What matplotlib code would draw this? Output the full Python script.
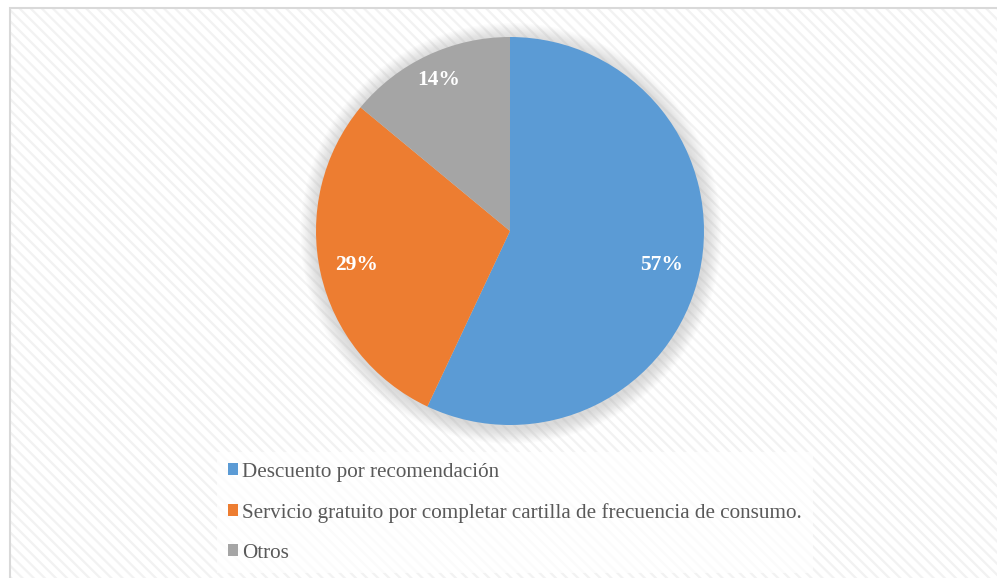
import numpy as np
import matplotlib.pyplot as plt
from matplotlib.patches import Rectangle, Circle, Patch

# datos del gráfico
categorias = ["Descuento por recomendación",
              "Servicio gratuito por completar cartilla de frecuencia de consumo.",
              "Otros"]
porcentajes = [57, 29, 14]
colores = ["#5b9bd5", "#ed7d31", "#a5a5a5"]
radio_etiquetas = [0.80, 0.81, 0.86]

plt.rcParams['font.family'] = ['Liberation Serif', 'DejaVu Serif']
plt.rcParams['hatch.linewidth'] = 1.6

W, H = 997, 578
fig = plt.figure(figsize=(W / 100, H / 100), dpi=100)
fig.patch.set_facecolor('white')

# fondo del área del gráfico (rayado diagonal)
rayado = Rectangle((10 / W, -0.05), 1.1, 1.05 - 8 / H, transform=fig.transFigure,
                   facecolor='white', edgecolor='#f2f2f2', linewidth=0,
                   hatch='\\\\\\', zorder=-2)
borde = Rectangle((10 / W, -0.05), 1.1, 1.05 - 8 / H, transform=fig.transFigure,
                  facecolor='none', edgecolor='#d9d9d9', linewidth=1.5,
                  zorder=-1)
fig.patches.extend([rayado, borde])

# ejes del pastel
cx, cy, r = 510, 231, 194
ax = fig.add_axes([(cx - r) / W, (H - cy - r) / H, 2 * r / W, 2 * r / H])
ax.set_zorder(1)
ax.patch.set_visible(False)

# sombra suave
for i in range(14):
    ax.add_patch(Circle((0.005, -0.012), 1.0 + 0.006 * (14 - i), color='#7f7f7f',
                        alpha=0.018, lw=0, zorder=0, clip_on=False))

wedges, textos, autotextos = ax.pie(
    porcentajes, colors=colores, startangle=90, counterclock=False,
    autopct='%d%%', pctdistance=0.8, radius=1.0,
    wedgeprops=dict(linewidth=0),
    textprops=dict(color='white', fontsize=15.5, fontweight='bold'))

for w, t, rr in zip(wedges, autotextos, radio_etiquetas):
    ang = np.deg2rad((w.theta1 + w.theta2) / 2)
    t.set_position((rr * np.cos(ang), rr * np.sin(ang)))

ax.set_xlim(-1, 1)
ax.set_ylim(-1, 1)
ax.set_aspect('equal')
ax.axis('off')

handles = [Patch(facecolor=c, edgecolor='none') for c in colores]
leg = fig.legend(handles, categorias, loc='upper left',
                 bbox_to_anchor=(217 / W, 1 - 452 / H), borderaxespad=0,
                 fontsize=15.2, labelcolor='#595959', frameon=True,
                 handlelength=0.5, handleheight=0.5, handletextpad=0.2,
                 labelspacing=1.0, borderpad=0.5, fancybox=False)
leg.set_zorder(2)
leg.get_frame().set_facecolor('white')
leg.get_frame().set_alpha(0.7)
leg.get_frame().set_edgecolor('none')

fig.savefig('out.png', dpi=100, facecolor='white')
